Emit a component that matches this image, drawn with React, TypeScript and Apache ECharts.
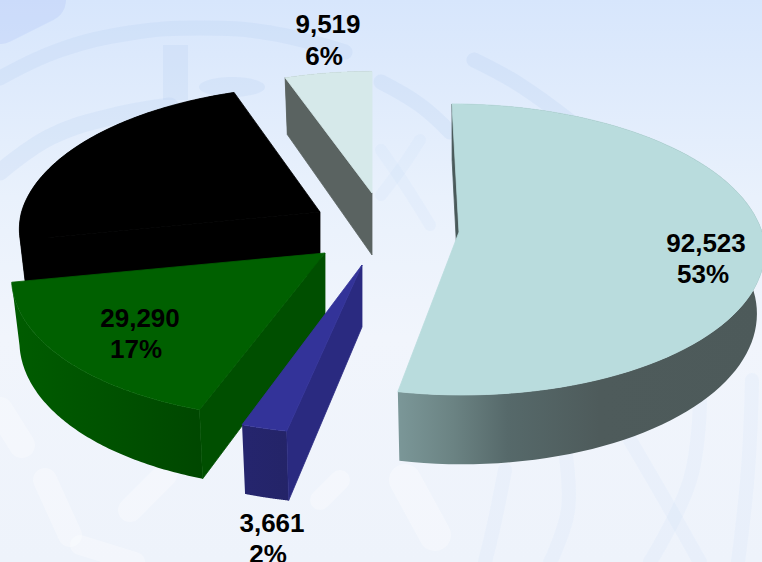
import React, { useEffect, useRef } from "react";
import * as echarts from "echarts";

const names = ["Teal", "Navy", "Green", "Black", "Pale"];
const values = [92523, 3661, 29290, 39579, 9519];
const valueLabels = ["92,523", "3,661", "29,290", "", "9,519"];
const shareLabels = ["53%", "2%", "17%", "", "6%"];
const paintOrder = [3, 4, 0, 2, 1];

const topColors = ["#B9DCDD", "#333399", "#006000", "#000000", "#D6E9EA"];
const faceColors = ["#4A5A5A", "#2A2A80", "#004F00", "#000000", "#5A6361"];
const sideStops: [number, string][][] = [
  [[0, "#7B9798"], [0.15, "#6B8383"], [0.3, "#56696A"], [0.55, "#4E5B5B"], [1, "#4D5A5A"]],
  [[0, "#25256E"], [1, "#242468"]],
  [[0, "#005C00"], [0.5, "#005200"], [1, "#004700"]],
  [[0, "#000000"], [1, "#000000"]],
  [[0, "#5A6361"], [1, "#5A6361"]],
];

// Projection of each exploded slice: apex on screen, scale and shear of the perspective.
const geometry = [
  { ax: 459, ay: 232, s: 1, sb: 0.055, sf: -0.02 },
  { ax: 362, ay: 265, s: 1.04, sb: 0, sf: 0.05 },
  { ax: 325, ay: 253, s: 1.02, sb: 0, sf: 0.1 },
  { ax: 320, ay: 212, s: 0.985, sb: -0.035, sf: 0 },
  { ax: 372, ay: 193, s: 0.95, sb: 0, sf: 0 },
];
const A = 303;
const B = 143.4;
const K = 0.12;

const labelSpots = [
  [706, 243, 703, 274],
  [272, 523, 268, 554],
  [140, 318, 136, 349],
  null,
  [328, 24, 324, 56],
];

const total = values.reduce((a, b) => a + b, 0);
const startFraction = (i: number) => values.slice(0, i).reduce((a, b) => a + b, 0) / total;

function project(i: number, theta: number) {
  const g = geometry[i];
  const u = Math.sin(theta);
  const v = -Math.cos(theta);
  const w = 1 - K * v;
  const Y = (B * g.s * v) / w;
  const X = (A * g.s * u) / w + (Y < 0 ? Y * g.sb : -Y * g.sf);
  return {
    top: [g.ax + X, g.ay + Y],
    bottom: [g.ax + X * 0.975, g.ay + Y * 1.045 + 62],
  };
}

function renderSlice(_: any, api: any) {
  const value = api.value(0);
  const i = api.value(1);
  const t0 = startFraction(i) * Math.PI * 2;
  const t1 = t0 + (value / total) * Math.PI * 2;
  const steps = 90;
  const tops: number[][] = [];
  const bottoms: number[][] = [];
  for (let n = 0; n <= steps; n++) {
    const p = project(i, t0 + ((t1 - t0) * n) / steps);
    tops.push(p.top);
    bottoms.push(p.bottom);
  }
  const g = geometry[i];
  const apexTop = [g.ax, g.ay];
  const apexBottom = [g.ax, g.ay + 62];
  const seal = (fill: string) => ({ fill, stroke: fill, lineWidth: 0.8, lineJoin: "round" });
  return {
    type: "group",
    children: [
      {
        type: "polygon",
        shape: { points: [...tops, ...bottoms.slice().reverse()] },
        style: {
          fill: new echarts.graphic.LinearGradient(
            0, 0, 1, 0,
            sideStops[i].map(([offset, color]) => ({ offset, color }))
          ),
        },
      },
      {
        type: "polygon",
        shape: { points: [apexTop, tops[0], bottoms[0], apexBottom] },
        style: seal(faceColors[i]),
      },
      {
        type: "polygon",
        shape: { points: [apexTop, ...tops] },
        style: seal(topColors[i]),
      },
    ],
  };
}

function renderLabel(_: any, api: any) {
  const i = api.value(0);
  const spot = labelSpots[i];
  if (!spot) return { type: "group", children: [] };
  const font = 'bold 26px "Liberation Sans", Arial, sans-serif';
  const line = (text: string, x: number, y: number) => ({
    type: "text",
    style: { text, x, y, font, fill: "#000", textAlign: "center", textVerticalAlign: "middle" },
  });
  return {
    type: "group",
    children: [line(valueLabels[i], spot[0], spot[1]), line(shareLabels[i], spot[2], spot[3])],
  };
}

const band = "rgba(165,195,235,0.17)";
const soft = "rgba(190,215,245,0.13)";
const pale = "rgba(255,255,255,0.3)";
const stroke = (points: number[][], width: number, color = band) => ({
  type: "polyline",
  silent: true,
  shape: { points, smooth: 0.4 },
  style: { stroke: color, lineWidth: width, fill: "none", lineCap: "round" },
});

const watermark = [
  stroke([[0, 22], [44, 0]], 44, "rgba(175,195,245,0.3)"),
  stroke([[0, 78], [60, 50], [130, 33], [200, 28], [270, 33], [345, 52]], 15),
  stroke([[0, 172], [50, 137], [110, 117], [170, 106]], 17),
  stroke([[381, 82], [420, 105], [450, 132]], 15),
  stroke([[474, 60], [520, 85], [575, 125]], 15),
  stroke([[420, 140], [400, 170], [381, 195]], 12, soft),
  stroke([[381, 150], [405, 185], [430, 225]], 12, soft),
  { type: "rect", silent: true, shape: { x: 163, y: 45, width: 25, height: 55 }, style: { fill: band } },
  { type: "ellipse", silent: true, shape: { cx: 232, cy: 87, rx: 33, ry: 10 }, style: { fill: band } },
  stroke([[505, 470], [495, 520], [485, 562]], 14, soft),
  stroke([[565, 450], [568, 510], [550, 562]], 14, soft),
  stroke([[630, 440], [665, 500], [700, 562]], 14, soft),
  stroke([[700, 400], [690, 480], [650, 562]], 14, soft),
  stroke([[752, 380], [748, 470], [738, 562]], 14, soft),
  stroke([[130, 510], [165, 475]], 24, pale),
  stroke([[45, 480], [70, 535]], 24, pale),
  stroke([[320, 500], [340, 480]], 20, pale),
  stroke([[80, 545], [135, 562]], 20, pale),
  stroke([[0, 410], [22, 445]], 26, pale),
  stroke([[405, 480], [435, 535]], 32, pale),
];

export default function App() {
  const ref = useRef<HTMLDivElement>(null);
  useEffect(() => {
    document.body.style.margin = "0";
    const chart = echarts.init(ref.current!, undefined, { renderer: "svg" });
    chart.setOption({
      animation: false,
      backgroundColor: new echarts.graphic.LinearGradient(0, 0, 0, 1, [
        { offset: 0, color: "#D7E6FC" },
        { offset: 0.35, color: "#E9F1FC" },
        { offset: 0.6, color: "#F1F5FC" },
        { offset: 1, color: "#EEF3FB" },
      ]),
      graphic: { elements: watermark },
      series: [
        {
          type: "custom",
          coordinateSystem: "none",
          name: names.join(", "),
          renderItem: renderSlice,
          z: 2,
          silent: true,
          data: paintOrder.map((i) => [values[i], i]),
        },
        {
          type: "custom",
          coordinateSystem: "none",
          renderItem: renderLabel,
          z: 3,
          silent: true,
          data: values.map((_, i) => [i]),
        },
      ],
    });
    return () => chart.dispose();
  }, []);
  return <div ref={ref} style={{ width: 762, height: 562, overflow: "hidden" }} />;
}
